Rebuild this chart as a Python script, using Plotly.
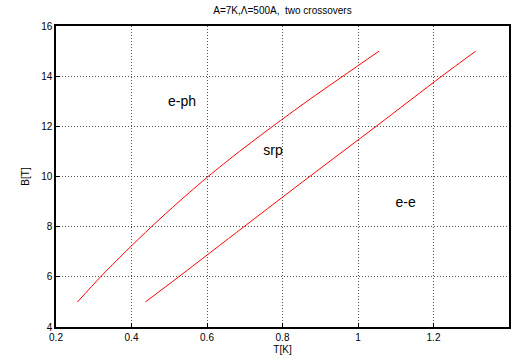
import plotly.graph_objects as go

# boundary e-ph / srp
b_eph = [5, 6, 7, 8, 9, 10, 11, 12, 13, 14, 15]
t_eph = [0.257, 0.318, 0.384, 0.453, 0.526, 0.603, 0.686, 0.774, 0.865, 0.960, 1.056]
# boundary srp / e-e
b_ee = [5, 6, 8, 10, 12, 14, 15]
t_ee = [0.437, 0.525, 0.698, 0.872, 1.048, 1.222, 1.312]

labels = ["e-ph", "srp", "e-e"]
label_t = [0.534, 0.775, 1.126]
label_b = [12.96, 10.98, 8.93]

x_ticks = [0.2, 0.4, 0.6, 0.8, 1.0, 1.2, 1.4]
x_ticktext = ["0.2", "0.4", "0.6", "0.8", "1", "1.2", "1.4"]
y_ticks = [4, 6, 8, 10, 12, 14, 16]

FONT = "Liberation Sans, Arial, sans-serif"

fig = go.Figure()
for t, b in [(t_eph, b_eph), (t_ee, b_ee)]:
    fig.add_trace(go.Scatter(x=t, y=b, mode="lines",
                             line=dict(color="#ff0000", width=1, shape="spline", smoothing=0.8),
                             showlegend=False, hoverinfo="skip"))

fig.add_trace(go.Scatter(x=label_t, y=label_b, mode="text", text=labels,
                         textfont=dict(size=14, color="black", family=FONT),
                         showlegend=False, hoverinfo="skip"))

axis_common = dict(showgrid=True, gridcolor="#555555", griddash="1px,2px", gridwidth=1,
                   showline=True, linecolor="black", linewidth=1.5, mirror=True,
                   ticks="inside", ticklen=4, tickcolor="black", zeroline=False,
                   automargin=False,
                   tickfont=dict(size=10, color="black", family=FONT))

fig.update_xaxes(range=[0.2, 1.4], tickvals=x_ticks, ticktext=x_ticktext,
                 title=dict(text="T[K]", font=dict(size=10, color="black", family=FONT), standoff=4),
                 **axis_common)
fig.update_yaxes(range=[4, 16], tickvals=y_ticks,
                 title=dict(text="B[T]", font=dict(size=10, color="black", family=FONT), standoff=10),
                 **axis_common)

fig.update_layout(
    width=512, height=363,
    margin=dict(l=55.5, r=2.5, t=25.7, b=36),
    paper_bgcolor="white", plot_bgcolor="white",
    title=dict(text="A=7K,\u039b=500A,  two crossovers", x=0.5, xref="paper", xanchor="center",
               y=0.972, yanchor="middle",
               font=dict(size=10, color="black", family=FONT)),
)

fig.write_html("out.html", config={"displayModeBar": False},
               post_script="document.body.style.margin='0';")
